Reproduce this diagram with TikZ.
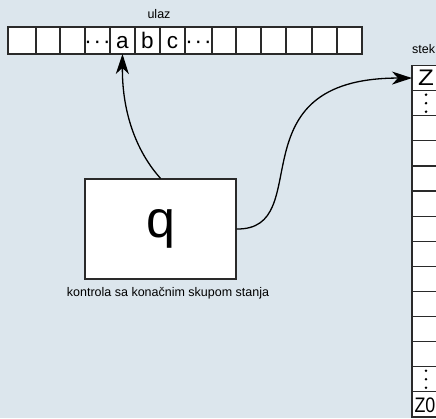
\documentclass[tikz,border=0pt]{standalone}
\usepackage{fontspec}
\setmainfont{Liberation Sans}
\usetikzlibrary{arrows.meta}
\definecolor{bg}{HTML}{DCE6ED}
\definecolor{edge}{HTML}{2A2A2A}

\begin{document}
\begin{tikzpicture}[x=1pt,y=-1pt,
  cell/.style={draw=edge, line width=1.2pt, fill=white, inner sep=0pt, outer sep=0pt},
  lbl/.style={font=\fontsize{12.5}{14}\selectfont, inner sep=0pt},
  sym/.style={font=\fontsize{22.5}{24}\selectfont, inner sep=0pt, anchor=base},
  link/.style={draw=black, line width=1.3pt, -{Stealth[length=20pt,width=13pt,inset=6pt]}}]
\fill[bg] (0,0) rectangle (436,418);
\clip (0,0) rectangle (436,418);

% input tape
\foreach \l/\r [count=\i] in {8/36,36/60,60/85,85/110,110/135,135/160,160/185,185/212,212/236,236/261,261/286,286/312,312/337,337/362}
  \node[cell, minimum width=\r pt-\l pt, minimum height=27] (t\i) at ({(\l+\r)/2},40.5) {};
\node[sym] (tdl) at (97.5,48) {·\kern2pt·\kern2pt·};
\node[sym] (ta) at (122.5,48) {a};
\node[sym] (tb) at (147.5,48) {b};
\node[sym] (tc) at (172.5,48) {c};
\node[sym] (tdr) at (198.5,48) {·\kern2pt·\kern2pt·};
\node[lbl] (ulaz) at (159,14) {ulaz};

% stack
\foreach \i in {1,...,14}
  \node[cell, minimum width=34, minimum height=25.1] (s\i) at (429,{65.5+25.1*(\i-0.5)}) {};
\node[lbl, anchor=west] (stek) at (412,49) {stek};
\node[sym, xscale=1.15] (sz) at (426,85) {Z};
\node[sym, font=\fontsize{21}{24}\selectfont, xscale=0.85] (sz0) at (425,412) {Z0};
\foreach \d in {-8.5,0,8.5} {
  \fill (s2.center) ++(-3,\d) circle (1.4);
  \fill (s13.center) ++(-3,\d) circle (1.4);
}

% finite control
\node[draw=edge, line width=1.3pt, fill=white, minimum width=151, minimum height=100,
      inner sep=0pt, font=\fontsize{52}{56}\selectfont] (q) at (160.5,229) {q};
\node[lbl] (ctl) at (168,293) {kontrola sa konačnim skupom stanja};

% head and stack pointer
\draw[link] (q.north) .. controls (135,150) and (122,110) .. (t5.south);
\draw[link] (q.east) .. controls (318,230) and (231,78) .. (s1.west);
\end{tikzpicture}
\end{document}
